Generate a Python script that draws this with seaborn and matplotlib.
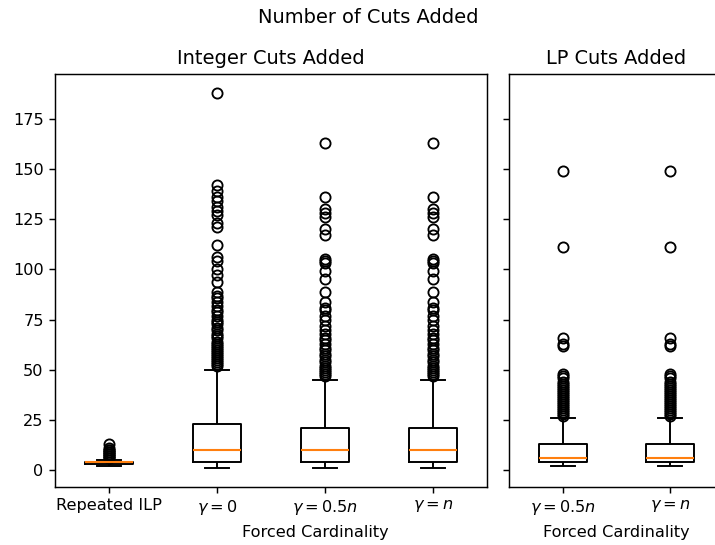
import numpy as np
import pandas as pd
import matplotlib
matplotlib.use("Agg")
import matplotlib.pyplot as plt
import seaborn as sns

# ---------------- data ----------------
int_groups = ["Repeated ILP", r"$\gamma = 0$", r"$\gamma = 0.5n$", r"$\gamma = n$"]
lp_groups = [r"$\gamma = 0.5n$", r"$\gamma = n$"]

# box summaries: [lower whisker, Q1, median, Q3, upper whisker]
rep_ilp_box = [2, 3, 4, 4, 5]
gamma0_box = [1, 4, 10, 23, 50]
gamma05_box = [1, 4, 10, 21, 45]
gamma1_box = [1, 4, 10, 21, 45]
lp_gamma05_box = [2, 4, 6, 13, 26]
lp_gamma1_box = [2, 4, 6, 13, 26]

# how many observations sit at each of the five summary values
box_weights = [1, 100, 100, 100, 1]

# outliers
rep_ilp_out = [6, 6, 7, 7, 8, 8, 9, 9, 10, 10, 11, 13]
gamma0_out = [188, 142, 139, 136, 134, 131, 129, 127, 123, 121, 112, 106, 104,
              100, 97, 94, 89, 87, 86, 84, 82, 80, 79, 77, 75, 74, 73, 71, 70,
              68, 67, 66, 64, 63, 62, 61, 60, 59, 58, 57, 56, 55, 54, 53, 52]
gamma05_out = [163, 136, 130, 128, 126, 120, 117, 105, 104, 103, 99, 95, 89, 84,
               81, 80, 77, 75, 72, 70, 68, 66, 65, 63, 61, 60, 58, 57, 55, 54,
               52, 51, 50, 49, 48, 47]
gamma1_out = [163, 136, 130, 128, 126, 120, 117, 105, 104, 103, 99, 95, 89, 84,
              81, 80, 77, 75, 72, 70, 68, 66, 65, 63, 61, 60, 58, 57, 55, 54,
              52, 51, 50, 49, 48, 47]
lp_gamma05_out = [149, 111, 66, 63, 62, 48, 47, 46, 44, 43, 42, 41, 40, 39, 38,
                  37, 36, 35, 34, 33, 32, 31, 30, 29, 28, 27]
lp_gamma1_out = [149, 111, 66, 63, 62, 48, 47, 46, 44, 43, 42, 41, 40, 39, 38,
                 37, 36, 35, 34, 33, 32, 31, 30, 29, 28, 27]


def observations(box, outliers):
    vals = list(np.repeat(box, box_weights)) + list(outliers)
    return vals


def long_frame(groups, boxes, outs):
    rows = []
    for g, b, o in zip(groups, boxes, outs):
        for v in observations(b, o):
            rows.append((g, float(v)))
    return pd.DataFrame(rows, columns=["method", "cuts"])


df_int = long_frame(int_groups,
                    [rep_ilp_box, gamma0_box, gamma05_box, gamma1_box],
                    [rep_ilp_out, gamma0_out, gamma05_out, gamma1_out])
df_lp = long_frame(lp_groups,
                   [lp_gamma05_box, lp_gamma1_box],
                   [lp_gamma05_out, lp_gamma1_out])

# ---------------- figure ----------------
W, H = 715, 545
DPI = 116
fig = plt.figure(figsize=(W / DPI, H / DPI), dpi=DPI)
bottom = (H - 487) / H
height = (487 - 74) / H
ax1 = fig.add_axes([55 / W, bottom, 432 / W, height])
ax2 = fig.add_axes([509 / W, bottom, 214.7 / W, height], sharey=ax1)

common = dict(
    fill=False, color="black", linewidth=1.2, width=0.45, whis=1.5,
    fliersize=6.3,
    medianprops=dict(color="#ff7f0e", linewidth=1.3),
    flierprops=dict(marker="o", markerfacecolor="none",
                    markeredgecolor="black", markeredgewidth=1.15),
)

sns.boxplot(data=df_int, x="method", y="cuts", order=int_groups, ax=ax1, **common)
sns.boxplot(data=df_lp, x="method", y="cuts", order=lp_groups, ax=ax2, **common)

for ax in (ax1, ax2):
    ax.set_ylabel("")
    ax.tick_params(labelsize=10, width=0.9)
    for s in ax.spines.values():
        s.set_visible(True)
        s.set_color("black")
        s.set_linewidth(0.9)

ax2.tick_params(labelleft=False)
ax1.set_yticks([0, 25, 50, 75, 100, 125, 150, 175])

ax1.set_title("Integer Cuts Added", fontsize=12)
ax2.set_title("LP Cuts Added", fontsize=12)

ax1.set_xlabel("Forced Cardinality", fontsize=10)
ax2.set_xlabel("Forced Cardinality", fontsize=10)
ax1.xaxis.set_label_coords((315 - 55) / 432, -0.092)
ax2.xaxis.set_label_coords(0.5, -0.092)

fig.suptitle("Number of Cuts Added", fontsize=12, x=368 / W, y=0.985)

fig.savefig("out.png", dpi=DPI)
